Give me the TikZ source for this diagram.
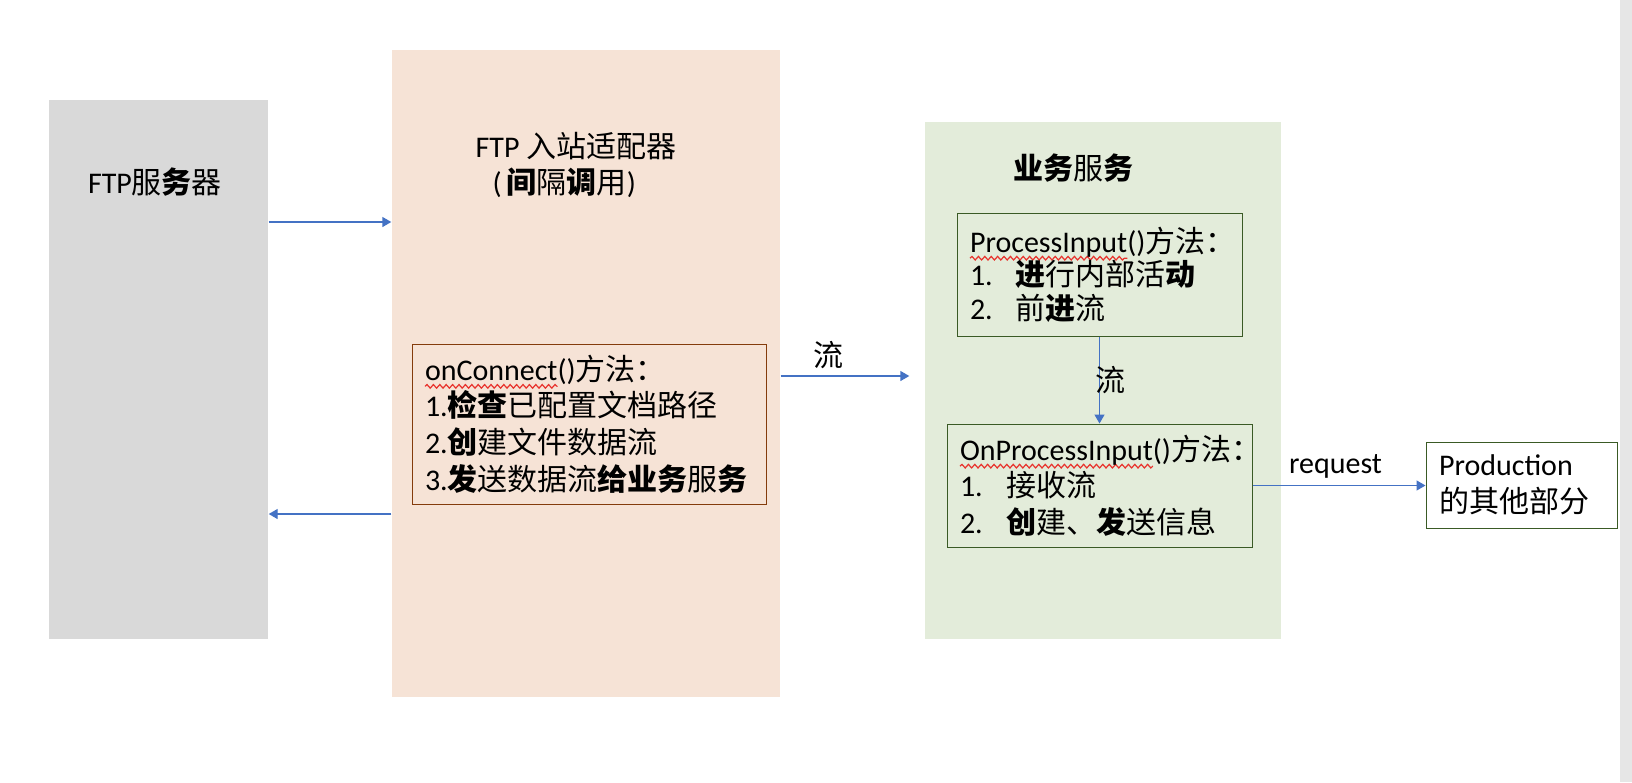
\documentclass[tikz,border=0pt]{standalone}
\usepackage{fontspec}
\usepackage{tikz}
\usetikzlibrary{arrows.meta,decorations.pathmorphing}

\setmainfont{Carlito}
\newfontfamily\cjk{Noto Sans CJK SC}
\newcommand{\zh}[1]{{\cjk #1}}
\newcommand{\zb}[1]{{\cjk\bfseries #1}}

\definecolor{servergray}{HTML}{D9D9D9}
\definecolor{adapterpeach}{HTML}{F6E3D6}
\definecolor{servicegreen}{HTML}{E3ECDA}
\definecolor{wirebrown}{HTML}{843C0C}
\definecolor{boxgreen}{HTML}{3A5A25}
\definecolor{flowblue}{HTML}{4472C4}
\definecolor{wavered}{HTML}{E8322C}
\definecolor{scrollgray}{HTML}{E6E6E6}

% red spell-check wave under a word
\newlength{\wavelen}
\newcommand{\spellwave}[1]{\settowidth{\wavelen}{#1}\tikz[overlay,baseline=0pt]
  \draw[-,wavered,line width=0.6pt,decorate,decoration={snake,amplitude=0.9pt,segment length=3.2pt}]
  (0pt,-3pt) -- (\wavelen,-3pt);#1}

\begin{document}
\begin{tikzpicture}[x=0.5pt,y=-0.5pt,->,>={Triangle[length=4.5pt,width=5pt]},
                    line width=0.7pt]
  \tikzstyle{every node}=[font=\fontsize{15}{18.3}\selectfont,text=black]
  \tikzstyle{every edge}=[draw=flowblue]
  \tikzstyle{panel}=[draw=none,inner sep=0pt]
  \tikzstyle{method}=[draw,line width=0.5pt,inner xsep=6.5pt,inner ysep=0pt,align=left]
\useasboundingbox (0,0) rectangle (1632,782);
\fill [-,scrollgray] (1620,0) rectangle (1632,782);

\node [panel,fill=servergray,minimum width=109.5pt,minimum height=269.5pt] (0) at (158.5,369.5) {};
\node [panel,fill=adapterpeach,minimum width=194pt,minimum height=323.5pt] (1) at (586,373.5) {};
\node [panel,fill=servicegreen,minimum width=178pt,minimum height=258.5pt] (2) at (1103,380.5) {};

\node (7) at (155,182) {FTP\zh{服}\zb{务}\zh{器}};
\node [align=left] (8) at (576,165) {FTP \zh{入站适配器}\\\hspace*{8.5pt}(\,\zb{间}\zh{隔}\zb{调}\zh{用})};
\node (9) at (1073,168) {\zb{业务}\zh{服}\zb{务}};

\node [method,draw=wirebrown,text width=164pt,minimum height=80pt] (3) at (589,424)
  {\spellwave{onConnect}()\zh{方法：}\\
   1.\zb{检查}\zh{已配置文档路径}\\
   2.\zb{创}\zh{建文件数据流}\\
   3.\zb{发}\zh{送数据流}\zb{给业务}\zh{服}\zb{务}};
\node [method,draw=boxgreen,text width=129.5pt,minimum height=61.5pt,
       font=\fontsize{15}{16.75}\selectfont] (4) at (1099.5,274.5)
  {\spellwave{ProcessInput}()\zh{方法：}\\
   \makebox[22.5pt][l]{1.}\zb{进}\zh{行内部活}\zb{动}\\
   \makebox[22.5pt][l]{2.}\zh{前}\zb{进}\zh{流}};
\node [method,draw=boxgreen,text width=139.5pt,minimum height=61.5pt] (5) at (1099.5,485.5)
  {\spellwave{OnProcessInput}()\zh{方法：}\\
   \makebox[23pt][l]{1.}\zh{接收流}\\
   \makebox[23pt][l]{2.}\zb{创}\zh{建、}\zb{发}\zh{送信息}};
\node [method,draw=boxgreen,fill=white,text width=82.5pt,minimum height=43pt] (6) at (1521.5,485)
  {Production\\\zh{的其他部分}};

\path (0.east |- 0,222) edge (1.west |- 0,222)
      (1.west |- 0,514) edge (0.east |- 0,514)
      (1.east |- 0,376) edge [shorten >=7.5pt] node [pos=0.33,above] (10) {\zh{流}} (2.west |- 0,376)
      (4.south) edge node [xshift=5.5pt] (11) {\zh{流}} (5.north)
      (5.east) edge node [pos=0.48,above] (12) {request} (6.west |- 5.east);

\end{tikzpicture}
\end{document}
